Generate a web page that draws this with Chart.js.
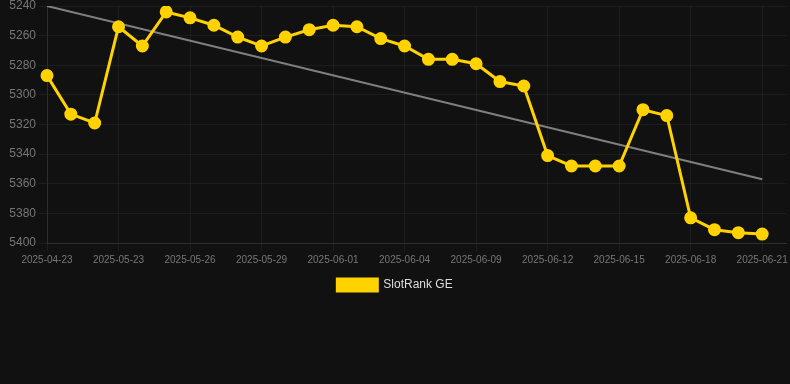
<!DOCTYPE html>
<html>
<head>
<meta charset="utf-8">
<script src="https://cdn.jsdelivr.net/npm/chart.js@4.4.1/dist/chart.umd.min.js"></script>
<style>
    html, body { margin: 0; padding: 0; background: #111111; }
    .chart_wrap { position: relative; width: 790px; height: 301px; }
</style>
</head>
<body>
<div class="chart_wrap">
    <canvas id="myChart"></canvas>
</div>
<script>
// chart data
const dates = [
    "2025-04-23", "2025-05-22", "2025-05-22", "2025-05-23", "2025-05-24", "2025-05-25",
    "2025-05-26", "2025-05-27", "2025-05-28", "2025-05-29", "2025-05-30", "2025-05-31",
    "2025-06-01", "2025-06-02", "2025-06-03", "2025-06-04", "2025-06-05", "2025-06-07",
    "2025-06-09", "2025-06-10", "2025-06-11", "2025-06-12", "2025-06-13", "2025-06-14",
    "2025-06-15", "2025-06-16", "2025-06-17", "2025-06-18", "2025-06-19", "2025-06-20",
    "2025-06-21", "2025-06-22"
];
const rankValues = [
    5287, 5313, 5319, 5254, 5267, 5244, 5248, 5253, 5261, 5267, 5261, 5256,
    5253, 5254, 5262, 5267, 5276, 5276, 5279, 5291, 5294, 5341, 5348, 5348,
    5348, 5310, 5314, 5383, 5391, 5393, 5394, null
];
// trend line end points
const trendStart = 5240;
const trendEnd = 5357;
const yTicks = [5240, 5260, 5280, 5300, 5320, 5340, 5360, 5380, 5400];

const trendValues = dates.map((d, i) => {
    if (i === 0) return trendStart;
    if (i === 30) return trendEnd;
    return null;
});

const ctx = document.getElementById("myChart").getContext("2d");

new Chart(ctx, {
    type: "line",
    data: {
        labels: dates,
        datasets: [
            {
                label: "SlotRank GE",
                data: rankValues,
                borderColor: "#FFD200",
                backgroundColor: "#FFD200",
                borderWidth: 3,
                pointRadius: 5,
                pointHoverRadius: 5,
                tension: 0
            },
            {
                label: "trend",
                data: trendValues,
                borderColor: "rgba(140, 140, 140, 0.9)",
                borderWidth: 2,
                pointRadius: 0,
                spanGaps: true,
                tension: 0
            }
        ]
    },
    options: {
        responsive: true,
        maintainAspectRatio: false,
        animation: false,
        layout: { autoPadding: false, padding: 0 },
        plugins: {
            legend: {
                position: "bottom",
                labels: {
                    color: "#dddddd",
                    boxWidth: 40,
                    boxHeight: 12,
                    font: { size: 12 },
                    filter: item => item.text !== "trend"
                }
            },
            tooltip: { enabled: false }
        },
        scales: {
            x: {
                offset: false,
                afterFit: axis => { axis.paddingRight = 4; },
                grid: { color: "rgba(255, 255, 255, 0.05)" },
                border: { color: "rgba(255, 255, 255, 0.08)" },
                ticks: {
                    autoSkip: false,
                    maxRotation: 0,
                    color: "#777777",
                    font: { size: 10 },
                    callback: function(value, index) {
                        return index % 3 === 0 ? dates[index] : null;
                    }
                }
            },
            y: {
                reverse: true,
                min: 5240,
                max: 5400,
                afterBuildTicks: axis => {
                    axis.ticks = yTicks.map(v => ({ value: v }));
                },
                afterFit: axis => {
                    axis.width = 47;
                    axis.paddingTop = 6;
                },
                grid: { color: "rgba(255, 255, 255, 0.05)" },
                border: { color: "rgba(255, 255, 255, 0.08)" },
                ticks: {
                    color: "#777777",
                    font: { size: 12 },
                    callback: value => String(value)
                }
            }
        }
    }
});
</script>
</body>
</html>
